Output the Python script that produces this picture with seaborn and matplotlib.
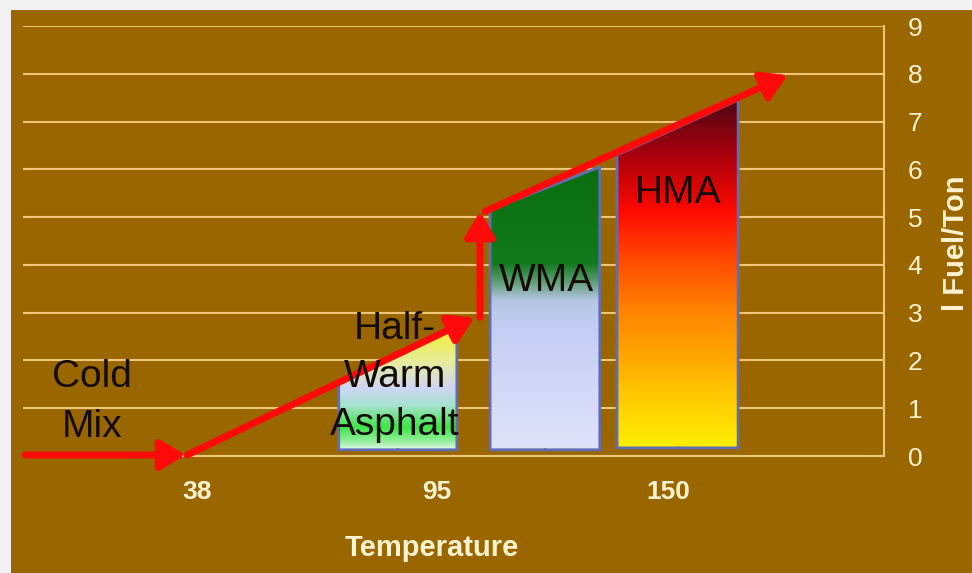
import numpy as np
import pandas as pd
import seaborn as sns
import matplotlib
matplotlib.use("Agg")
import matplotlib.pyplot as plt
from matplotlib.patches import Polygon, Rectangle
from matplotlib.colors import LinearSegmentedColormap

# ---------------- data ----------------
temp_ticks = [38, 95, 150]
temp_tick_labels = ["38", "95", "150"]
fuel_ticks = [0, 1, 2, 3, 4, 5, 6, 7, 8, 9]

regions = ["Half-Warm", "WMA", "HMA"]
region_left_T = [71.7, 107.7, 137.9]
region_right_T = [99.8, 133.8, 166.7]
region_bottom = [0.13, 0.13, 0.17]
region_top_left = [1.55, 5.15, 6.30]
region_top_right = [2.74, 6.05, 7.45]

# red arrow path segments (temperature, fuel)
arrow_x0 = [-2.9, 35.6, 105.3, 106.5]
arrow_y0 = [0.02, 0.02, 2.90, 5.12]
arrow_x1 = [35.3, 104.0, 105.3, 178.5]
arrow_y1 = [0.02, 2.90, 5.12, 7.97]

label_texts = ["Cold\nMix", "Half-\nWarm\nAsphalt", "WMA", "HMA"]
label_T = [13.0, 85.1, 121.0, 152.4]
label_fuel = [1.13, 1.65, 3.66, 5.50]

# ---------------- styles ----------------
BROWN = "#996600"
GRID = "#EFC57A"
CREAM = "#FFF3D2"
RED = "#FF0A0A"
OUTLINE = "#5F6DB5"
TXT = "#140C04"

gradients = {
    "Half-Warm": [(0.0, "#e6faf2"), (0.06, "#9cf0a4"), (0.18, "#3ee646"),
                  (0.36, "#a8e2d0"), (0.50, "#d0d6f4"), (0.70, "#e6eca0"),
                  (1.0, "#f4ee22")],
    "WMA": [(0.0, "#dfe3fa"), (0.42, "#c6cef4"), (0.53, "#b4c6e4"),
            (0.60, "#5a9a70"), (0.66, "#127a1c"), (1.0, "#0a6e10")],
    "HMA": [(0.0, "#ffee00"), (0.11, "#ffd400"), (0.25, "#ffaa00"),
            (0.40, "#ff8200"), (0.54, "#ff4a00"), (0.68, "#ff0a00"),
            (0.83, "#b0000c"), (0.97, "#600612"), (1.0, "#580614")],
}

sns.set_theme(style="white")
plt.rcParams["font.family"] = ["Liberation Sans", "DejaVu Sans"]

fig = plt.figure(figsize=(9.72, 5.73), dpi=100, facecolor="#f2f2f2")
fig.add_artist(Rectangle((11 / 972, 0), 1, 563 / 573, transform=fig.transFigure,
                         facecolor=BROWN, edgecolor="none", zorder=-10))
ax = fig.add_axes([23 / 972, 117 / 573, 861 / 972, 430 / 573])
ax.set_facecolor("none")

# gradient-filled regions
for i, name in enumerate(regions):
    L, R = region_left_T[i], region_right_T[i]
    b, tl, tr = region_bottom[i], region_top_left[i], region_top_right[i]
    top = max(tl, tr)
    poly = Polygon([(L, b), (L, tl), (R, tr), (R, b)], closed=True,
                   transform=ax.transData, facecolor="none", edgecolor="none")
    ax.add_patch(poly)
    cmap = LinearSegmentedColormap.from_list(name, gradients[name])
    grad = np.linspace(0, 1, 256).reshape(-1, 1)
    im = ax.imshow(grad, extent=[L, R, b, top], origin="lower", aspect="auto",
                   cmap=cmap, zorder=2, interpolation="bilinear")
    im.set_clip_path(poly)
    mid = (L + R) / 2
    outline = pd.DataFrame({"x": [mid, R, R, L, L, mid],
                            "y": [b, b, tr, tl, b, b]})
    sns.lineplot(data=outline, x="x", y="y", sort=False, estimator=None,
                 color=OUTLINE, lw=2, ax=ax, zorder=3)

# red arrows
for x0, y0, x1, y1 in zip(arrow_x0, arrow_y0, arrow_x1, arrow_y1):
    ax.annotate("", xy=(x1, y1), xytext=(x0, y0), zorder=4,
                arrowprops=dict(arrowstyle="-|>,head_length=0.75,head_width=0.45",
                                color=RED, lw=5, mutation_scale=20,
                                shrinkA=0, shrinkB=0))

# region labels
spacings = [1.48, 1.42, 1.2, 1.2]
for t, xv, yv, ls in zip(label_texts, label_T, label_fuel, spacings):
    ax.text(xv, yv, t, ha="center", va="center", fontsize=28, color=TXT,
            linespacing=ls, zorder=5)

# axes styling
ax.set_xlim(-3.4, 201.4)
ax.set_ylim(0, 9)
ax.set_xticks(temp_ticks, temp_tick_labels)
ax.set_xticks(np.linspace(-3.4, 201.4, 21), minor=True)
ax.tick_params(axis="x", which="major", length=0, pad=17, labelsize=19,
               labelcolor=CREAM)
ax.tick_params(axis="x", which="minor", direction="in", length=5, width=1.5,
               color=GRID)
for lbl in ax.get_xticklabels():
    lbl.set_fontweight("bold")

ax.yaxis.tick_right()
ax.set_yticks(fuel_ticks, [str(v) for v in fuel_ticks])
ax.tick_params(axis="y", length=0, pad=17, labelsize=19, labelcolor=CREAM)

ax.grid(axis="y", color=GRID, lw=1.5)
ax.grid(axis="x", visible=False)
ax.set_axisbelow(True)
for s in ["top", "left"]:
    ax.spines[s].set_visible(False)
for s in ["right", "bottom"]:
    ax.spines[s].set_color(GRID)
    ax.spines[s].set_linewidth(1.5)

ax.set_xlabel("Temperature", fontsize=21, fontweight="bold", color=CREAM)
ax.xaxis.set_label_coords(0.475, -0.214)
ax.xaxis.label.set_va("center")

ax.yaxis.set_label_position("right")
ax.set_ylabel("l Fuel/Ton", fontsize=21, fontweight="bold", color=CREAM,
              rotation=90)
ax.yaxis.label.set_va("center")
ax.yaxis.set_label_coords(1.0836, 0.494)

fig.savefig("out.png", dpi=100, facecolor=fig.get_facecolor())
